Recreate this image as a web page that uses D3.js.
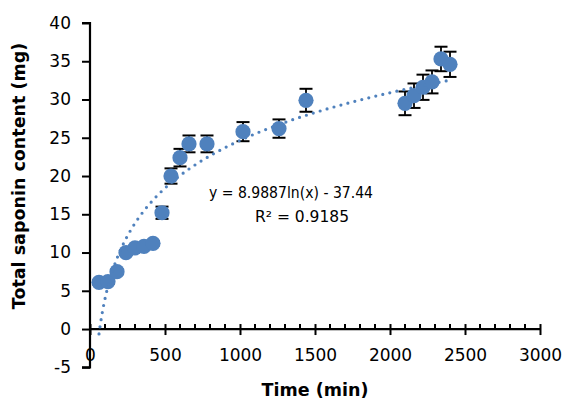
<!DOCTYPE html>
<html>
<head>
<meta charset="utf-8">
<script src="https://cdn.jsdelivr.net/npm/d3@7"></script>
<style>
  body { margin: 0; background: #fff; }
  text { font-family: "DejaVu Sans", sans-serif; fill: #000; }
</style>
</head>
<body>
<div id="chart"></div>
<script>
const width = 566;
const height = 400;

// data
const times = [60, 120, 180, 240, 300, 360, 420, 480, 540, 600, 660, 780, 1020, 1260, 1440, 2100, 2160, 2220, 2280, 2340, 2400];
const saponin = [6.1, 6.2, 7.5, 10.0, 10.6, 10.8, 11.2, 15.2, 20.0, 22.4, 24.2, 24.2, 25.8, 26.2, 29.9, 29.5, 30.5, 31.6, 32.3, 35.3, 34.6];
const errors = [0.3, 0.3, 0.3, 0.3, 0.3, 0.3, 0.3, 0.8, 1.0, 1.15, 1.1, 1.1, 1.25, 1.2, 1.5, 1.55, 1.6, 1.65, 1.5, 1.6, 1.65];
const xTicks = [0, 500, 1000, 1500, 2000, 2500, 3000];
const yTicks = [-5, 0, 5, 10, 15, 20, 25, 30, 35, 40];
const trendA = 8.9887;
const trendB = -37.44;
const eqLines = ["y = 8.9887ln(x) - 37.44", "R\u00b2 = 0.9185"];

const blue = "#4f81bd";

const svg = d3
  .select("#chart")
  .append("svg")
  .attr("width", width)
  .attr("height", height);

const x = d3.scaleLinear().domain([0, 3000]).range([90, 540]);
const y = d3.scaleLinear().domain([-5, 40]).range([367.3, 23]);

const data = times.map((t, i) => ({ t: t, v: saponin[i], e: errors[i] }));
const plain = (d) => String(d);

//-----axes-----//
// y axis, outward ticks on the left
const yAxis = svg
  .append("g")
  .attr("transform", `translate(${x(0)},0)`)
  .call(d3.axisLeft(y).tickValues(yTicks).tickFormat(plain).tickSize(8).tickPadding(11));

// x axis at y = 0, minor ticks every 100 pointing up, major crossing
const xMinor = d3.range(100, 3000, 100).filter((d) => d % 500 !== 0);
svg
  .append("g")
  .attr("class", "minor")
  .selectAll("line")
  .data(xMinor)
  .join("line")
  .attr("x1", (d) => x(d))
  .attr("x2", (d) => x(d))
  .attr("y1", y(0) - 5)
  .attr("y2", y(0))
  .attr("stroke", "#000")
  .attr("stroke-width", 2);

const xAxis = svg
  .append("g")
  .attr("transform", `translate(0,${y(0)})`)
  .call(d3.axisBottom(x).tickValues(xTicks).tickFormat(plain).tickSize(6).tickPadding(14).tickSizeOuter(0));

xAxis.selectAll(".tick line").attr("y1", -5);

[yAxis, xAxis].forEach((g) => {
  g.select(".domain").attr("stroke", "#000").attr("stroke-width", 2.2);
  g.selectAll(".tick line").attr("stroke", "#000").attr("stroke-width", 2);
  g.selectAll(".tick text").attr("font-size", 17).attr("font-family", "DejaVu Sans");
});
yAxis.select(".domain").attr("d", `M-8,${y(40)}H0V${y(-5)}H-8`);
xAxis.select(".domain").attr("d", `M${x(0)},0H${x(3000)}`);

//-----error bars-----//
const eb = svg.append("g").attr("class", "errorbars");
eb.selectAll("line.stem")
  .data(data)
  .join("line")
  .attr("class", "stem")
  .attr("x1", (d) => x(d.t))
  .attr("x2", (d) => x(d.t))
  .attr("y1", (d) => y(d.v + d.e))
  .attr("y2", (d) => y(d.v - d.e))
  .attr("stroke", "#000")
  .attr("stroke-width", 1.8);
["top", "bottom"].forEach((side) => {
  eb.selectAll("line." + side)
    .data(data)
    .join("line")
    .attr("class", side)
    .attr("x1", (d) => x(d.t) - 6.5)
    .attr("x2", (d) => x(d.t) + 6.5)
    .attr("y1", (d) => y(side === "top" ? d.v + d.e : d.v - d.e))
    .attr("y2", (d) => y(side === "top" ? d.v + d.e : d.v - d.e))
    .attr("stroke", "#000")
    .attr("stroke-width", 2);
});

//-----markers-----//
svg
  .append("g")
  .attr("class", "points")
  .selectAll("circle")
  .data(data)
  .join("circle")
  .attr("cx", (d) => x(d.t))
  .attr("cy", (d) => y(d.v))
  .attr("r", 7.6)
  .attr("fill", blue);

//-----log trendline (dotted)-----//
const tMin = d3.min(times);
const tMax = d3.max(times);
const trendPts = d3.range(0, 301).map((i) => {
  const t = tMin + ((tMax - tMin) * i) / 300;
  return [t, trendA * Math.log(t) + trendB];
});
svg
  .append("path")
  .datum(trendPts)
  .attr("fill", "none")
  .attr("stroke", blue)
  .attr("stroke-width", 3.2)
  .attr("stroke-linecap", "round")
  .attr("stroke-dasharray", "0,7.2")
  .attr("d", d3.line().x((d) => x(d[0])).y((d) => y(d[1])));

//-----equation label-----//
svg
  .append("text")
  .attr("x", 291)
  .attr("y", 198)
  .attr("text-anchor", "middle")
  .attr("font-size", 15.5)
  .attr("textLength", 164)
  .attr("lengthAdjust", "spacingAndGlyphs")
  .text(eqLines[0]);
svg
  .append("text")
  .attr("x", 302)
  .attr("y", 222)
  .attr("text-anchor", "middle")
  .attr("font-size", 15.5)
  .text(eqLines[1]);

//-----axis titles-----//
svg
  .append("text")
  .attr("transform", "translate(25,176) rotate(-90)")
  .attr("text-anchor", "middle")
  .attr("font-size", 17.5)
  .attr("font-weight", "bold")
  .text("Total saponin content (mg)");
svg
  .append("text")
  .attr("x", 315)
  .attr("y", 396)
  .attr("text-anchor", "middle")
  .attr("font-size", 17.5)
  .attr("font-weight", "bold")
  .text("Time (min)");
</script>
</body>
</html>
